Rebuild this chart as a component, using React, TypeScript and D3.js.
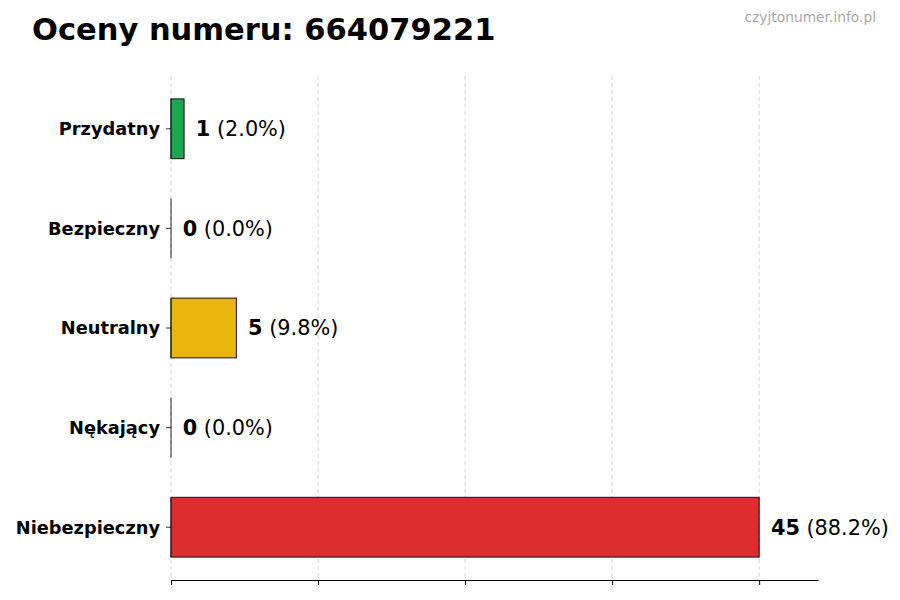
import { useRef, useEffect } from 'react'
import * as d3 from 'd3'

const WIDTH = 900
const HEIGHT = 600

// bottom to top, as matplotlib barh draws them
const categories = ['Niebezpieczny', 'Nękający', 'Neutralny', 'Bezpieczny', 'Przydatny']
const counts = [45, 0, 5, 0, 1]
const colors = ['#dc2626', '#9ca3af', '#eab308', '#9ca3af', '#16a34a']
const xTicks = [0, 11.25, 22.5, 33.75, 45]

const TITLE = 'Oceny numeru: 664079221'
const WATERMARK = 'czyjtonumer.info.pl'
const FONT = '"DejaVu Sans", sans-serif'

export default function App() {
  const svgRef = useRef<SVGSVGElement>(null)

  useEffect(() => {
    if (!svgRef.current) return
    const svg = d3.select(svgRef.current)
    svg.selectAll('*').remove()

    const margin = { top: 76, right: 82, bottom: 20, left: 171 }
    const total = d3.sum(counts)
    const maxVal = d3.max(counts) ?? 1

    const x = d3
      .scaleLinear()
      .domain([0, maxVal * 1.1])
      .range([margin.left, WIDTH - margin.right])
    const y = d3
      .scaleLinear()
      .domain([-0.53, categories.length - 1 + 0.53])
      .range([HEIGHT - margin.bottom, margin.top])
    const barH = y(0) - y(0.6)

    svg
      .append('rect')
      .attr('width', WIDTH)
      .attr('height', HEIGHT)
      .attr('fill', '#ffffff')

    // Title + watermark
    svg
      .append('text')
      .attr('x', 32)
      .attr('y', 40)
      .attr('font-family', FONT)
      .attr('font-weight', 'bold')
      .attr('font-size', 30.5)
      .attr('fill', '#000')
      .text(TITLE)

    svg
      .append('text')
      .attr('x', 876)
      .attr('y', 22)
      .attr('text-anchor', 'end')
      .attr('font-family', FONT)
      .attr('font-size', 13.8)
      .attr('fill', '#aaaaaa')
      .text(WATERMARK)

    // Grid
    svg
      .append('g')
      .selectAll('line')
      .data(xTicks)
      .enter()
      .append('line')
      .attr('x1', (d) => x(d))
      .attr('x2', (d) => x(d))
      .attr('y1', margin.top)
      .attr('y2', HEIGHT - margin.bottom)
      .attr('stroke', '#cccccc')
      .attr('stroke-width', 0.8)
      .attr('stroke-dasharray', '4,3')

    // Bars
    const bars = svg.append('g').selectAll('g').data(counts).enter().append('g')
    bars
      .append('rect')
      .attr('x', x(0))
      .attr('y', (_, i) => y(i) - barH / 2)
      .attr('width', (d) => x(d) - x(0))
      .attr('height', barH)
      .attr('fill', (_, i) => colors[i])
      .attr('fill-opacity', 0.97)
      .attr('stroke', '#111111')
      .attr('stroke-width', 1)
    // left edge stays visible even when a bar has zero width
    bars
      .append('line')
      .attr('x1', x(0))
      .attr('x2', x(0))
      .attr('y1', (_, i) => y(i) - barH / 2)
      .attr('y2', (_, i) => y(i) + barH / 2)
      .attr('stroke', '#222222')
      .attr('stroke-width', 1)

    // Value labels
    const labels = svg
      .append('g')
      .selectAll('text')
      .data(counts)
      .enter()
      .append('text')
      .attr('x', (d) => x(d + maxVal * 0.02))
      .attr('y', (_, i) => y(i))
      .attr('dy', '0.36em')
      .attr('font-family', FONT)
      .attr('font-size', 20.8)
      .attr('fill', '#000')
    labels
      .append('tspan')
      .attr('font-weight', 'bold')
      .text((d) => `${d}`)
    labels
      .append('tspan')
      .text((d) => ` (${((d / total) * 100).toFixed(1)}%)`)

    // Y axis: ticks + labels, no spine
    const yAxis = svg.append('g')
    categories.forEach((cat, i) => {
      yAxis
        .append('line')
        .attr('x1', margin.left - 5)
        .attr('x2', margin.left)
        .attr('y1', y(i))
        .attr('y2', y(i))
        .attr('stroke', '#000')
        .attr('stroke-width', 0.8)
      yAxis
        .append('text')
        .attr('x', margin.left - 11)
        .attr('y', y(i))
        .attr('dy', '0.36em')
        .attr('text-anchor', 'end')
        .attr('font-family', FONT)
        .attr('font-weight', 'bold')
        .attr('font-size', 17.8)
        .attr('fill', '#000')
        .text(cat)
    })

    // X axis: spine + ticks, no labels
    const xAxis = svg
      .append('g')
      .attr('transform', `translate(0,${HEIGHT - margin.bottom})`)
      .call(
        d3
          .axisBottom(x)
          .tickValues(xTicks)
          .tickSize(5)
          .tickSizeOuter(0)
          .tickFormat(() => '')
      )
    xAxis.select('.domain').attr('stroke', '#000').attr('stroke-width', 1.2)
    xAxis.selectAll('.tick line').attr('stroke', '#000').attr('stroke-width', 1)
  }, [])

  return (
    <svg
      ref={svgRef}
      width={WIDTH}
      height={HEIGHT}
      style={{ position: 'absolute', left: 0, top: 0, display: 'block' }}
    />
  )
}
